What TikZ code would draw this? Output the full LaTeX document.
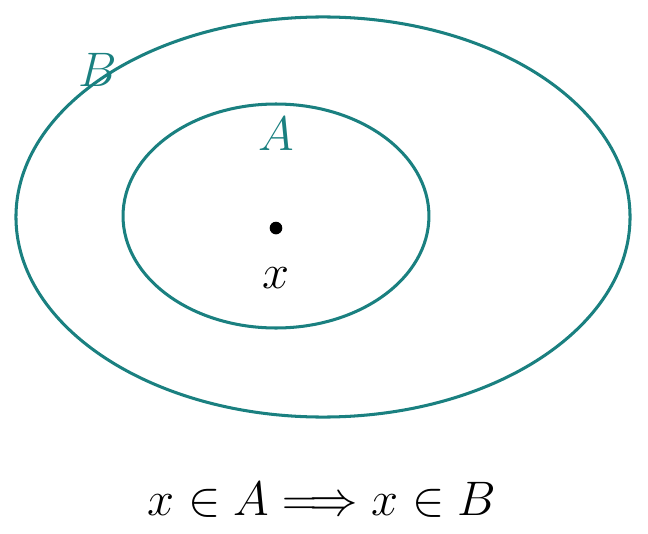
\documentclass[tikz,border=0pt]{standalone}
\usepackage{amsmath}
\usepackage{amssymb}
\usepackage{tikz}
\definecolor{setteal}{RGB}{26,128,128}

\begin{document}
\begin{tikzpicture}
    \useasboundingbox (0,0) rectangle (9.744,8.015);
    \begin{scope}[line width=1.3pt,
            setline/.style={draw=setteal},
            setlabel/.style={text=setteal,font=\fontsize{21.5}{26}\selectfont},
            ptlabel/.style={font=\fontsize{21.5}{26}\selectfont}]

        % draws the two sets
        \draw[setline] (4.857,4.752) ellipse [x radius=4.617, y radius=3.008];
        \draw[setline] (4.150,4.767) ellipse [x radius=2.30, y radius=1.684];

        % draws the point
        \node[circle, fill=black, inner sep=0pt, minimum size=0.19cm] (pt) at (4.150,4.586) {};

        % labels sets and point
        \node[setlabel] (labB) at (1.474,6.962) {$B$};
        \node[setlabel] (labA) at (4.150,6.000) {$A$};
        \node[ptlabel] (labx) at (4.150,3.835) {$x$};

        % the implication
        \node[ptlabel] (impl) at (4.842,0.496) {$x \in A \Longrightarrow x \in B$};
    \end{scope}
\end{tikzpicture}
\end{document}
